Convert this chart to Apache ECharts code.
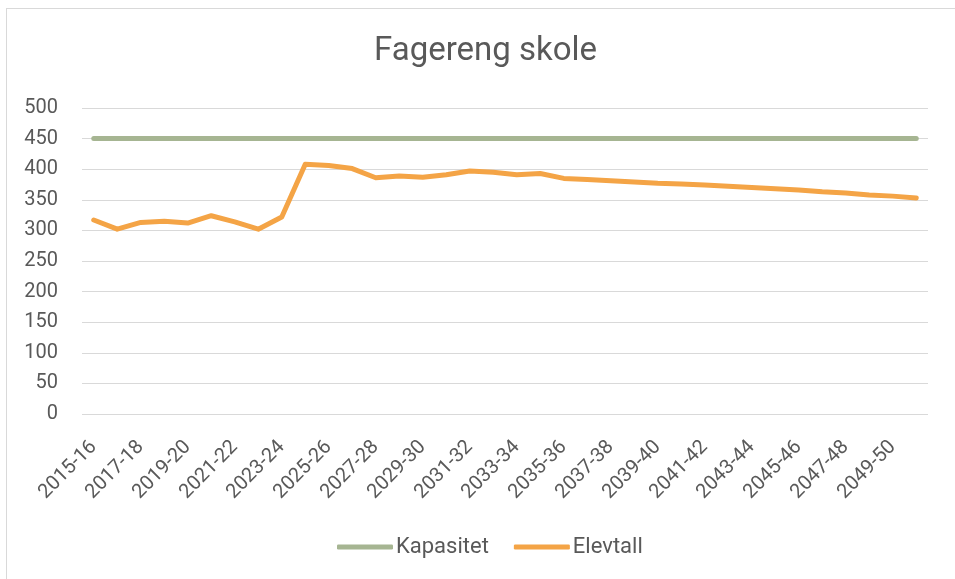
<!DOCTYPE html>
<html>
<head>
<meta charset="utf-8">
<script src="https://cdn.jsdelivr.net/npm/echarts@6/dist/echarts.min.js"></script>
<style>
  html, body { margin: 0; padding: 0; background: #fff; }
  #frame { position: absolute; left: 6px; top: 8px; width: 960px; height: 590px; border: 1px solid #d9d9d9; box-sizing: border-box; }
  #chart { position: absolute; left: 0; top: 0; width: 955px; height: 579px; }
</style>
</head>
<body>
<div id="frame"></div>
<div id="chart"></div>
<script>
const years = [
  '2015-16', '2016-17', '2017-18', '2018-19', '2019-20', '2020-21', '2021-22', '2022-23',
  '2023-24', '2024-25', '2025-26', '2026-27', '2027-28', '2028-29', '2029-30', '2030-31',
  '2031-32', '2032-33', '2033-34', '2034-35', '2035-36', '2036-37', '2037-38', '2038-39',
  '2039-40', '2040-41', '2041-42', '2042-43', '2043-44', '2044-45', '2045-46', '2046-47',
  '2047-48', '2048-49', '2049-50', '2050-51'
]
const kapasitet = [
  450, 450, 450, 450, 450, 450, 450, 450, 450, 450, 450, 450,
  450, 450, 450, 450, 450, 450, 450, 450, 450, 450, 450, 450,
  450, 450, 450, 450, 450, 450, 450, 450, 450, 450, 450, 450
]
const elevtall = [
  317, 302, 313, 315, 312, 324, 314, 302, 322, 408, 406, 401,
  386, 389, 387, 391, 397, 395, 391, 393, 385, 383, 381, 379,
  377, 376, 374, 372, 370, 368, 366, 363, 361, 358, 356, 353
]

const textColor = '#595959'
const font = 'Roboto, "Open Sans", sans-serif'

const chart = echarts.init(document.getElementById('chart'))
const option = {
  animation: false,
  textStyle: { fontFamily: font },
  title: {
    text: 'Fagereng skole',
    left: 369,
    top: 30,
    textStyle: { fontSize: 33, fontWeight: 'normal', color: textColor, fontFamily: font }
  },
  legend: {
    bottom: 16,
    left: 332,
    icon: 'roundRect',
    itemWidth: 56,
    itemHeight: 5,
    itemGap: 25,
    textStyle: { fontSize: 22, color: textColor, padding: [0, 0, 0, -2] },
    data: ['Kapasitet', 'Elevtall']
  },
  grid: {
    left: 82,
    right: 27,
    top: 108,
    bottom: 165
  },
  xAxis: {
    type: 'category',
    data: years,
    boundaryGap: true,
    axisLine: { show: false },
    axisTick: { show: false },
    axisLabel: {
      interval: 1,
      rotate: 45,
      fontSize: 20,
      color: textColor,
      margin: 30
    }
  },
  yAxis: {
    type: 'value',
    min: 0,
    max: 500,
    interval: 50,
    axisLine: { show: false },
    axisTick: { show: false },
    axisLabel: { fontSize: 20, color: textColor, margin: 24 },
    splitLine: { lineStyle: { color: '#d9d9d9', width: 1 } }
  },
  series: [
    {
      name: 'Kapasitet',
      type: 'line',
      data: kapasitet,
      symbol: 'none',
      itemStyle: { color: '#a6b592' },
      lineStyle: { color: '#a6b592', width: 5, cap: 'round', join: 'round' }
    },
    {
      name: 'Elevtall',
      type: 'line',
      data: elevtall,
      symbol: 'none',
      itemStyle: { color: '#f4a446' },
      lineStyle: { color: '#f4a446', width: 5, cap: 'round', join: 'round' }
    }
  ]
}
chart.setOption(option)
</script>
</body>
</html>
